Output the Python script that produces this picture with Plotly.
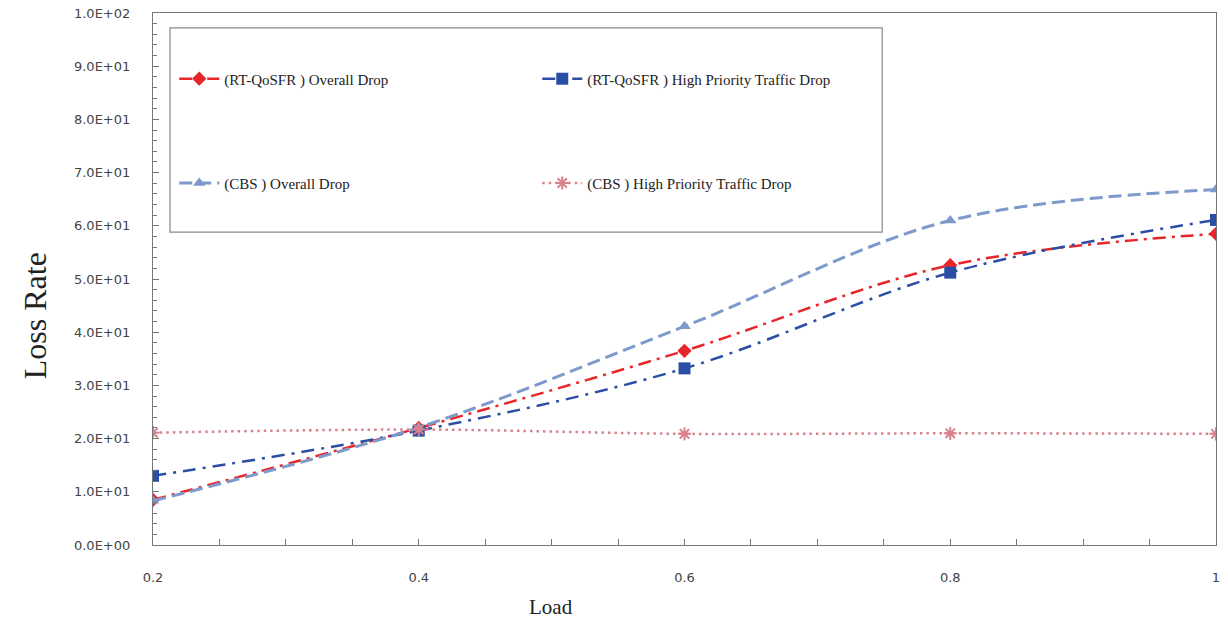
import plotly.graph_objects as go

# Offered load and measured loss rate (%) per scheme
load = [0.2, 0.4, 0.6, 0.8, 1.0]
rt_overall = [8.5, 22.0, 36.5, 52.6, 58.5]
rt_high = [13.0, 21.5, 33.2, 51.2, 61.1]
cbs_overall = [8.3, 22.1, 41.1, 61.0, 66.8]
cbs_high = [21.1, 21.7, 20.9, 21.0, 20.9]

y_tickvals = [0, 10, 20, 30, 40, 50, 60, 70, 80, 90, 100]
y_ticktext = ["0.0E+00", "1.0E+01", "2.0E+01", "3.0E+01", "4.0E+01", "5.0E+01",
              "6.0E+01", "7.0E+01", "8.0E+01", "9.0E+01", "1.0E+02"]
x_tickvals = [0.2, 0.4, 0.6, 0.8, 1.0]
x_ticktext = ["0.2", "0.4", "0.6", "0.8", "1"]

RED = "#e8262a"
BLUE = "#2b4ea5"
LIGHT = "#7d9acb"
PINK = "#d9828e"
SMOOTH = 1.0

fig = go.Figure()

fig.add_trace(go.Scatter(
    x=load, y=rt_overall, name="(RT-QoSFR ) Overall Drop", legend="legend",
    mode="lines+markers", line=dict(color=RED, width=2.5, dash="13px,6px,3px,6px", shape="spline", smoothing=SMOOTH),
    marker=dict(symbol="diamond", size=11, color=RED)))
fig.add_trace(go.Scatter(
    x=load, y=rt_high, name="(RT-QoSFR ) High Priority Traffic Drop", legend="legend",
    mode="lines+markers", line=dict(color=BLUE, width=2.5, dash="13px,7px,3px,7px", shape="spline", smoothing=SMOOTH),
    marker=dict(symbol="square", size=12, color=BLUE)))
fig.add_trace(go.Scatter(
    x=load, y=cbs_overall, name="(CBS ) Overall Drop", legend="legend2",
    mode="lines+markers", line=dict(color=LIGHT, width=3, dash="13px,6px", shape="spline", smoothing=SMOOTH),
    marker=dict(symbol="triangle-up", size=11, color=LIGHT)))
fig.add_trace(go.Scatter(
    x=load, y=cbs_high, name="(CBS ) High Priority Traffic Drop", legend="legend2",
    mode="lines+markers", line=dict(color=PINK, width=2.5, dash="2.5px,4px", shape="spline", smoothing=SMOOTH),
    marker=dict(symbol="asterisk-open", size=11, color=PINK, line=dict(color=PINK, width=2))))

axis_common = dict(showline=True, linecolor="#777", linewidth=1.2, mirror=True,
                   showgrid=False, zeroline=False, automargin=False,
                   tickfont=dict(family="DejaVu Sans", size=13, color="#444"))

fig.update_xaxes(range=[0.2, 1.0], tickvals=x_tickvals, ticktext=x_ticktext,
                 ticks="inside", ticklen=6, tickcolor="#777",
                 minor=dict(dtick=0.05, tick0=0.2, ticks="inside", ticklen=6, tickcolor="#777"),
                 ticklabelstandoff=20,
                 **axis_common)
fig.update_yaxes(range=[0, 100], tickvals=y_tickvals, ticktext=y_ticktext,
                 ticks="inside", ticklen=6, tickcolor="#777",
                 minor=dict(dtick=2, ticks="inside", ticklen=4, tickcolor="#777"),
                 ticklabelstandoff=19,
                 **axis_common)

title_font = dict(family="Liberation Serif", color="#222")
legend_font = dict(family="Liberation Serif", size=15, color="#222")
fig.update_layout(
    width=1228, height=622,
    margin=dict(l=153, r=12, t=13, b=77),
    plot_bgcolor="white", paper_bgcolor="white",
    legend=dict(x=0.02, y=0.876, xanchor="left", yanchor="middle", orientation="h",
                entrywidth=308, font=legend_font, bgcolor="rgba(0,0,0,0)", itemwidth=40),
    legend2=dict(x=0.02, y=0.68, xanchor="left", yanchor="middle", orientation="h",
                 entrywidth=308, font=legend_font, bgcolor="rgba(0,0,0,0)", itemwidth=40),
    shapes=[dict(type="rect", xref="paper", yref="paper", x0=0.016, x1=0.686, y0=0.588, y1=0.972,
                 line=dict(color="#888", width=1.2), fillcolor="rgba(0,0,0,0)", layer="below")],
    annotations=[
        dict(text="Loss Rate", textangle=-90, xref="paper", yref="paper", x=-0.111, y=0.43,
             xanchor="center", yanchor="middle", showarrow=False, font=dict(size=32, **title_font)),
        dict(text="Load", xref="paper", yref="paper", x=0.374, y=-0.117,
             xanchor="center", yanchor="middle", showarrow=False, font=dict(size=21, **title_font)),
    ],
)

fig.write_html("out.html")
